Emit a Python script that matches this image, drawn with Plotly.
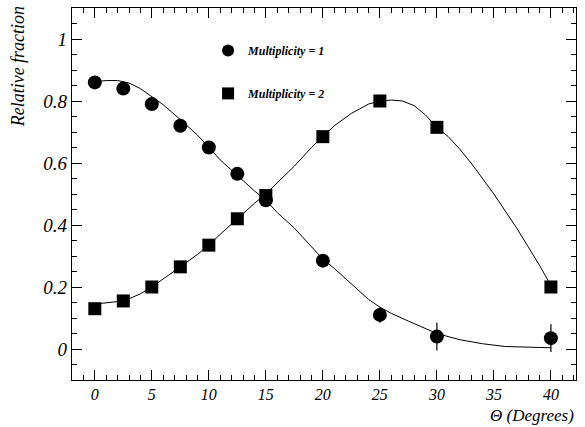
import plotly.graph_objects as go

# Data points
theta = [0, 2.5, 5, 7.5, 10, 12.5, 15, 20, 25, 30, 40]
mult1 = [0.86, 0.84, 0.79, 0.72, 0.65, 0.565, 0.48, 0.285, 0.11, 0.04, 0.035]
mult1_err = [0, 0, 0, 0, 0, 0, 0, 0.012, 0.025, 0.045, 0.045]
mult2 = [0.13, 0.155, 0.2, 0.265, 0.335, 0.42, 0.495, 0.685, 0.80, 0.715, 0.2]

# Fitted curves
fit1_x = [0, 1, 2, 3, 4, 5, 6, 7.5, 9, 10, 11, 12.5, 14, 15, 16, 17.5, 19, 20, 21, 22.5, 24, 25, 26, 27.5, 29, 30, 32, 34, 36, 38, 40]
fit1_y = [0.862, 0.866, 0.866, 0.858, 0.84, 0.815, 0.788, 0.74, 0.69, 0.65, 0.61, 0.56, 0.51, 0.48, 0.44, 0.39, 0.33, 0.29, 0.26, 0.21, 0.16, 0.135, 0.115, 0.09, 0.065, 0.05, 0.03, 0.017, 0.008, 0.005, 0.004]
fit2_x = [0, 1, 2, 3, 4, 5, 6, 7.5, 9, 10, 11, 12.5, 14, 15, 16, 17.5, 19, 20, 21, 22.5, 24, 25, 26, 27, 28, 29, 30, 31, 32, 33, 34, 35, 36, 37, 38, 39, 40]
fit2_y = [0.145, 0.148, 0.153, 0.162, 0.178, 0.2, 0.225, 0.265, 0.305, 0.335, 0.37, 0.42, 0.47, 0.5, 0.535, 0.59, 0.65, 0.685, 0.72, 0.76, 0.79, 0.8, 0.803, 0.8, 0.785, 0.755, 0.715, 0.685, 0.645, 0.6, 0.55, 0.5, 0.445, 0.39, 0.33, 0.27, 0.205]

x_ticks = [0, 5, 10, 15, 20, 25, 30, 35, 40]
y_ticks = [0, 0.2, 0.4, 0.6, 0.8, 1]
y_labels = ["0", "0.2", "0.4", "0.6", "0.8", "1"]

serif = "Liberation Serif"

fig = go.Figure()
fig.add_trace(go.Scatter(x=fit1_x, y=fit1_y, mode="lines", line=dict(color="black", width=1),
                         showlegend=False, hoverinfo="skip"))
fig.add_trace(go.Scatter(x=fit2_x, y=fit2_y, mode="lines", line=dict(color="black", width=1),
                         showlegend=False, hoverinfo="skip"))
fig.add_trace(go.Scatter(x=theta, y=mult1, mode="markers", name="Multiplicity = 1",
                         legendgroup="a",
                         marker=dict(symbol="circle", size=14, color="black"),
                         error_y=dict(type="data", array=mult1_err, color="black", thickness=1.2, width=0)))
fig.add_trace(go.Scatter(x=theta, y=mult2, mode="markers", name="Multiplicity = 2",
                         legendgroup="b",
                         marker=dict(symbol="square", size=13, color="black")))

axis_common = dict(showline=True, linecolor="black", linewidth=1.2, mirror="ticks",
                   ticks="inside", tickcolor="black", ticklen=10, tickwidth=1,
                   showgrid=False, zeroline=False)

fig.update_xaxes(range=[-2, 42.2], tickvals=x_ticks,
                 tickfont=dict(family=serif, size=16, color="black", style="italic"),
                 minor=dict(ticks="inside", dtick=1, ticklen=5, tickcolor="black", tickwidth=1),
                 **axis_common)
fig.update_yaxes(range=[-0.1, 1.1], tickvals=y_ticks, ticktext=y_labels,
                 tickfont=dict(family=serif, size=19, color="black", style="italic"),
                 minor=dict(ticks="inside", dtick=0.05, tick0=0, ticklen=5, tickcolor="black", tickwidth=1),
                 **axis_common)

fig.add_annotation(text="Relative fraction", xref="paper", yref="paper", x=-0.108, y=1.01,
                   xanchor="center", yanchor="top", textangle=-90, showarrow=False,
                   font=dict(family=serif, size=18, color="black", style="italic"))
fig.add_annotation(text="Θ (Degrees)", xref="paper", yref="paper", x=1.0, y=-0.125,
                   xanchor="right", yanchor="bottom", showarrow=False,
                   font=dict(family=serif, size=17, color="black", style="italic"))

fig.update_layout(
    width=585, height=427,
    margin=dict(l=72, r=9, t=8, b=47),
    paper_bgcolor="white", plot_bgcolor="white",
    legend=dict(x=0.27, y=0.925, xanchor="left", yanchor="top", bgcolor="rgba(0,0,0,0)",
                tracegroupgap=24, itemsizing="constant",
                font=dict(family=serif, size=12, color="black", style="italic", weight="bold")),
)

fig.write_html("out.html")
